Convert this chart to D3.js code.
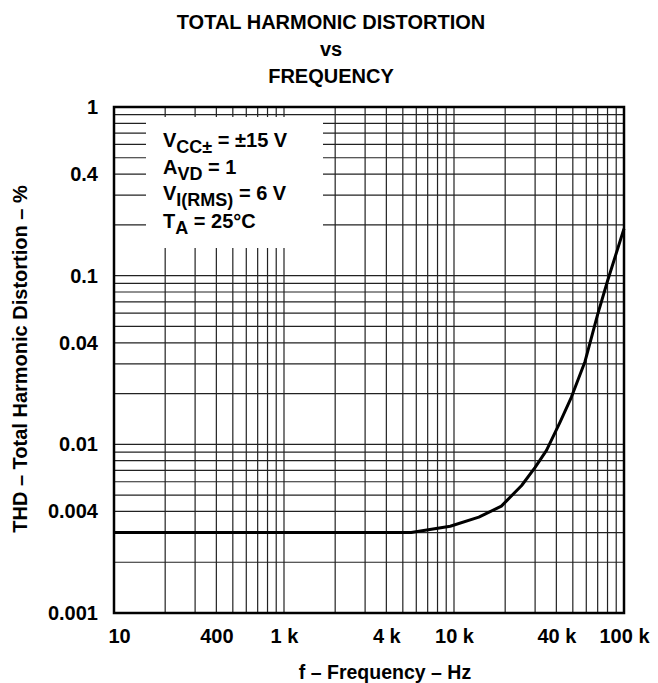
<!DOCTYPE html>
<html>
<head>
<meta charset="utf-8">
<script src="https://cdn.jsdelivr.net/npm/d3@7"></script>
<style>
  body { margin: 0; background: #fff; }
  text { font-family: "Liberation Sans", Arial, Helvetica, sans-serif; font-weight: bold; fill: #000; }
</style>
</head>
<body>
<svg id="chart" width="658" height="683"></svg>
<script>
// curve (Hz, %)
const freq = [100, 1000, 5600, 9500, 14000, 19000, 25000, 30000, 35000, 42000, 49000, 59000, 70000, 80000, 100000];
const thd = [0.003, 0.003, 0.003, 0.00327, 0.0037, 0.0043, 0.0057, 0.0073, 0.0092, 0.0135, 0.019, 0.031, 0.059, 0.093, 0.19];

const xTicks = [100, 400, 1000, 4000, 10000, 40000, 100000];
const xTickLabels = ["10", "400", "1 k", "4 k", "10 k", "40 k", "100 k"];
const yTicks = [1, 0.4, 0.1, 0.04, 0.01, 0.004, 0.001];
const yTickLabels = ["1", "0.4", "0.1", "0.04", "0.01", "0.004", "0.001"];

const titleLines = ["TOTAL HARMONIC DISTORTION", "vs", "FREQUENCY"];

const svg = d3.select('#chart');
const plotL = 114, plotR = 624, plotT = 107, plotB = 613;

const x = d3.scaleLog().domain([100, 100000]).range([plotL, plotR]);
const y = d3.scaleLog().domain([0.001, 1]).range([plotB, plotT]);

// grid values: 1..9 per decade
function decadeGrid(lo, hi) {
    const out = [];
    for (let d = lo; d < hi; d *= 10) {
        for (let k = 1; k <= 9; k++) out.push(d * k);
    }
    out.push(hi);
    return out;
}
const xGrid = decadeGrid(100, 100000);
const yGrid = decadeGrid(0.001, 1);

const grid = svg.append('g').style('stroke', '#222').style('stroke-width', 1.2);

grid.selectAll('line.v')
    .data(xGrid)
    .join('line')
    .attr('class', 'v')
    .attr('x1', d => x(d)).attr('x2', d => x(d))
    .attr('y1', plotT).attr('y2', plotB);

grid.selectAll('line.h')
    .data(yGrid)
    .join('line')
    .attr('class', 'h')
    .attr('x1', plotL).attr('x2', plotR)
    .attr('y1', d => y(d)).attr('y2', d => y(d));

// white box behind the conditions text
svg.append('rect')
    .attr('x', 146).attr('y', 117)
    .attr('width', 177).attr('height', 131)
    .style('fill', '#fff');

// frame
svg.append('rect')
    .attr('x', plotL).attr('y', plotT)
    .attr('width', plotR - plotL).attr('height', plotB - plotT)
    .style('fill', 'none')
    .style('stroke', '#000')
    .style('stroke-width', 2.5);

// curve
const line = d3.line().x((d, i) => x(freq[i])).y(d => y(d));
svg.append('path')
    .datum(thd)
    .attr('d', line)
    .style('fill', 'none')
    .style('stroke', '#000')
    .style('stroke-width', 3)
    .style('stroke-linejoin', 'round');

// axes (labels only)
const xAxis = svg.append('g')
    .attr('transform', `translate(0,${plotB})`)
    .call(d3.axisBottom(x).tickValues(xTicks).tickSize(0).tickPadding(16)
        .tickFormat((d, i) => xTickLabels[i]));
xAxis.select('.domain').remove();
xAxis.selectAll('text')
    .style('font-size', '20px')
    .style('font-family', '"Liberation Sans", Arial, sans-serif')
    .attr('dx', (d, i) => i === 0 ? 5 : 0);

const yAxis = svg.append('g')
    .attr('transform', `translate(${plotL},0)`)
    .call(d3.axisLeft(y).tickValues(yTicks).tickSize(0).tickPadding(16)
        .tickFormat((d, i) => yTickLabels[i]));
yAxis.select('.domain').remove();
yAxis.selectAll('text')
    .style('font-size', '20px')
    .style('font-family', '"Liberation Sans", Arial, sans-serif');

// title
svg.append('g').selectAll('text')
    .data(titleLines)
    .join('text')
    .attr('x', 331)
    .attr('y', (d, i) => 29 + i * 27)
    .attr('text-anchor', 'middle')
    .style('font-size', '20px')
    .text(d => d);

// axis titles
svg.append('text')
    .attr('x', 385).attr('y', 679)
    .attr('text-anchor', 'middle')
    .style('font-size', '19.5px')
    .text('f – Frequency – Hz');

svg.append('text')
    .attr('transform', `translate(27,359) rotate(-90)`)
    .attr('text-anchor', 'middle')
    .style('font-size', '20px')
    .text('THD – Total Harmonic Distortion – %');

// conditions
const cond = svg.append('g').style('font-size', '20px');
function condLine(yPos, main, sub, rest) {
    const t = cond.append('text').attr('x', 163).attr('y', yPos);
    t.append('tspan').text(main);
    t.append('tspan').attr('dy', 6).style('font-size', '18px').text(sub);
    t.append('tspan').attr('dy', -6).text(rest);
}
condLine(147, 'V', 'CC\u00b1', ' = \u00b115 V');
condLine(174, 'A', 'VD', ' = 1');
condLine(200, 'V', 'I(RMS)', ' = 6 V');
condLine(228, 'T', 'A', ' = 25\u00b0C');
</script>
</body>
</html>
